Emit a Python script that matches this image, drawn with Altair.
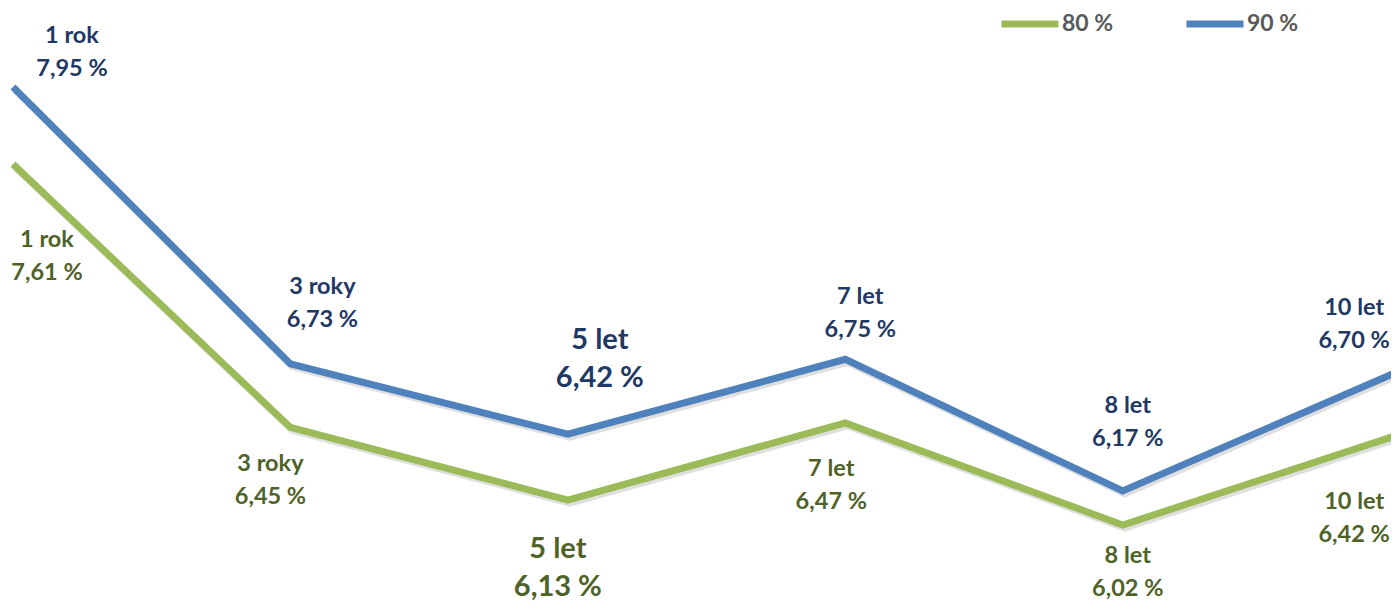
import altair as alt
import pandas as pd

# ---- data ----
terms = ["1 rok", "3 roky", "5 let", "7 let", "8 let", "10 let"]
rate_80 = [7.61, 6.45, 6.13, 6.47, 6.02, 6.42]
rate_90 = [7.95, 6.73, 6.42, 6.75, 6.17, 6.70]
series_names = ["80 %", "90 %"]

# ---- label placement (pixel offsets from each point to label block centre) ----
lab_dx_90 = [59, 32, 32, 15, 5, -46]
lab_dy_90 = [-34.5, -60, -75, -46, -68, -46]
lab_dx_80 = [34, -20, -10, -14, 5, -46]
lab_dy_80 = [92, 53, 68, 63, 47, 84]
big_term = "5 let"

# ---- layout ----
W, H = 1383, 596
X_DOM = [-0.018, 4.967]
Y_DOM = [5.672, 8.298]
PX_X = W / (X_DOM[1] - X_DOM[0])
PX_Y = H / (Y_DOM[1] - Y_DOM[0])

GREEN, BLUE = "#9BBB59", "#4F81BD"
GREEN_TXT, BLUE_TXT = "#4F6228", "#1F3864"


def fmt(v):
    return f"{v:.2f}".replace(".", ",") + " %"


rows = []
for name, vals, dxs, dys in [("80 %", rate_80, lab_dx_80, lab_dy_80),
                             ("90 %", rate_90, lab_dx_90, lab_dy_90)]:
    for i, (t, v) in enumerate(zip(terms, vals)):
        rows.append({
            "series": name,
            "idx": i,
            "term": t,
            "value": v,
            "label": f"{t}\n{fmt(v)}",
            "lx": i + dxs[i] / PX_X,
            "ly": v - dys[i] / PX_Y,
            "big": t == big_term,
        })
df = pd.DataFrame(rows)

xs = alt.Scale(domain=X_DOM, nice=False, zero=False)
ys = alt.Scale(domain=Y_DOM, nice=False, zero=False)

base = alt.Chart(df)

shadow = base.transform_calculate(
    sx=f"datum.idx + 2/{PX_X}", sy=f"datum.value - 3/{PX_Y}"
).mark_line(strokeWidth=7, color="#7f7f7f", opacity=0.25, clip=True).encode(
    x=alt.X("sx:Q", scale=xs, axis=None),
    y=alt.Y("sy:Q", scale=ys, axis=None),
    detail="series:N",
)

lines = base.mark_line(strokeWidth=7, clip=True).encode(
    x=alt.X("idx:Q", scale=xs, axis=None),
    y=alt.Y("value:Q", scale=ys, axis=None),
    color=alt.Color(
        "series:N",
        scale=alt.Scale(domain=series_names, range=[GREEN, BLUE]),
        legend=alt.Legend(
            title=None, orient="none", legendX=990, legendY=-16,
            direction="horizontal", symbolType="stroke", symbolSize=3249,
            symbolStrokeWidth=7, labelFont="Lato", labelFontWeight="bold",
            labelFontSize=23, labelColor="#595959", labelOffset=0,
            columnPadding=58, padding=0,
        ),
    ),
)


def labels(series, big, color):
    fs = 29 if big else 23.5
    lh = 38 if big else 33
    return base.transform_filter(
        (alt.datum.series == series) & (alt.datum.big == big)
    ).mark_text(
        font="Lato", fontWeight="bold", fontSize=fs,
        lineHeight=lh, align="center", baseline="middle", dy=-lh / 2,
        color=color, lineBreak="\n",
    ).encode(
        x=alt.X("lx:Q", scale=xs, axis=None),
        y=alt.Y("ly:Q", scale=ys, axis=None),
        text="label:N",
    )


chart = alt.layer(
    shadow, lines,
    labels("90 %", False, BLUE_TXT), labels("90 %", True, BLUE_TXT),
    labels("80 %", False, GREEN_TXT), labels("80 %", True, GREEN_TXT),
).properties(
    width=W, height=H, padding=0, background="white",
    autosize=alt.AutoSizeParams(type="none"),
).configure_view(stroke=None)

chart.save("out.html", embed_options={"renderer": "svg", "actions": False})
